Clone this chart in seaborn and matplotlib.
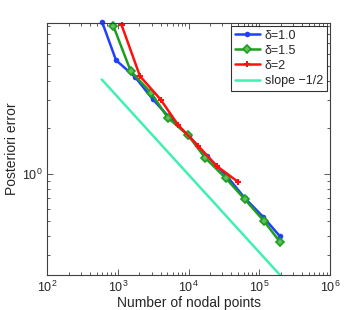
import seaborn as sns
import pandas as pd
import matplotlib.pyplot as plt
from matplotlib.ticker import LogLocator, NullFormatter

# 데이터
n_10 = [600, 937, 1741, 3097, 5430, 10090, 18150, 34800, 62600, 113500, 195300]
err_10 = [9.52, 5.44, 4.24, 3.05, 2.30, 1.76, 1.31, 0.97, 0.70, 0.53, 0.398]

n_15 = [859, 1514, 2930, 5050, 9860, 17000, 33700, 62600, 116000, 195300]
err_15 = [9.05, 4.62, 3.35, 2.32, 1.78, 1.28, 0.94, 0.687, 0.50, 0.366]

n_20 = [1127, 2046, 4015, 7130, 13680, 24900, 50400]
err_20 = [9.15, 4.29, 3.03, 2.07, 1.52, 1.13, 0.89]

slope_x = [590, 2.0e5]
slope_y = [4.08, 0.2216]

labels = ['δ=1.0', 'δ=1.5', 'δ=2', 'slope −1/2']

sns.set_style('ticks')
plt.rcParams['font.family'] = ['Liberation Sans', 'DejaVu Sans']
plt.rcParams['mathtext.fontset'] = 'custom'
plt.rcParams['mathtext.rm'] = 'Liberation Sans'
plt.rcParams['mathtext.it'] = 'Liberation Sans:italic'

fig = plt.figure(figsize=(3.64, 3.10), dpi=100)
ax = fig.add_axes([0.130, 0.114, 0.7766, 0.813])
ax.set_xscale('log')
ax.set_yscale('log')

sns.lineplot(x=n_10, y=err_10, ax=ax, color='#2040ff', marker='o', markersize=4,
             markeredgewidth=0, linewidth=1.8, label=labels[0], clip_on=False)
sns.lineplot(x=n_15, y=err_15, ax=ax, color='#1e9e1e', marker='D', markersize=4.5,
             markeredgewidth=1.2, markerfacecolor='#5cc05c', markeredgecolor='#1e9e1e',
             linewidth=1.8, label=labels[1], clip_on=False)
sns.lineplot(x=n_20, y=err_20, ax=ax, color='#ff1010', marker='+', markersize=5,
             markeredgewidth=1.5, markeredgecolor='#ff1010', linewidth=1.8,
             label=labels[2], clip_on=False)
sns.lineplot(x=slope_x, y=slope_y, ax=ax, color='#40f0b0', linewidth=1.8,
             label=labels[3])

ax.set_xlim(1e2, 1e6)
ax.set_ylim(0.225, 9.5)

ax.xaxis.set_major_locator(LogLocator(base=10, numticks=10))
ax.xaxis.set_minor_locator(LogLocator(base=10, subs=range(2, 10), numticks=50))
ax.xaxis.set_minor_formatter(NullFormatter())
ax.yaxis.set_major_locator(LogLocator(base=10, numticks=10))
ax.yaxis.set_minor_locator(LogLocator(base=10, subs=range(2, 10), numticks=50))
ax.yaxis.set_minor_formatter(NullFormatter())

ax.tick_params(which='both', direction='in', top=True, right=True, labelsize=9,
               color='#404040', width=0.6)
ax.tick_params(which='major', length=4)
ax.tick_params(which='minor', length=2)
for s in ax.spines.values():
    s.set_color('#404040')
    s.set_linewidth(0.8)

ax.set_xlabel('Number of nodal points', fontsize=10, labelpad=1)
ax.set_ylabel('Posteriori error', fontsize=10, labelpad=2)

leg = ax.legend(loc='upper right', fontsize=9, frameon=True, fancybox=False,
                borderpad=0.3, labelspacing=0.25, handlelength=2.0,
                handletextpad=0.4, borderaxespad=0.25)
leg.get_frame().set_edgecolor('black')
leg.get_frame().set_linewidth(0.8)

fig.savefig('out.png', dpi=100)
